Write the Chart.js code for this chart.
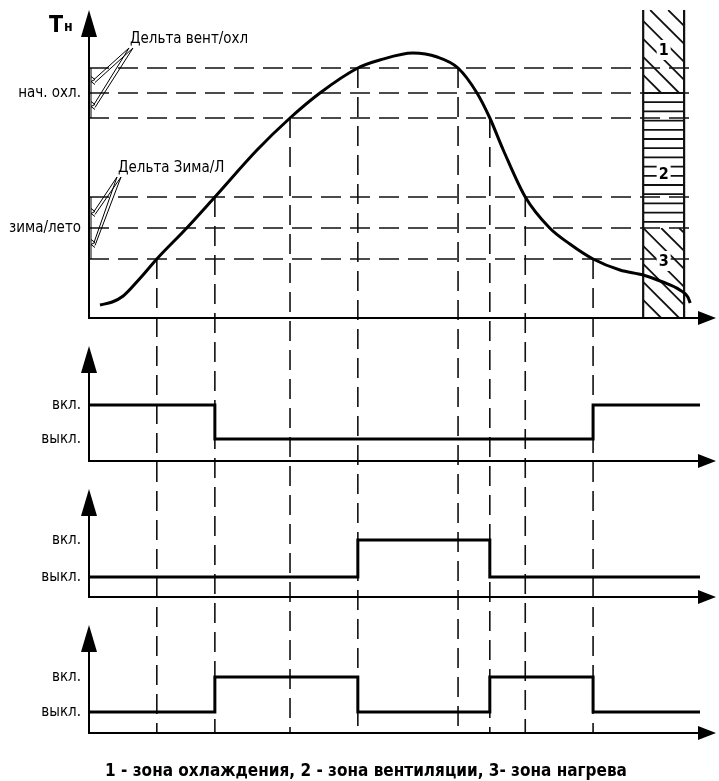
<!DOCTYPE html>
<html>
<head>
<meta charset="utf-8">
<script src="https://cdn.jsdelivr.net/npm/chart.js@4.4.0/dist/chart.umd.min.js"></script>
<style>
  html, body { margin: 0; padding: 0; background: #fff; }
  #wrap { width: 719px; height: 781px; }
</style>
</head>
<body>
<div id="wrap"><canvas id="diagram"></canvas></div>
<script>
// time runs 0..100 (arbitrary units), temperature in degrees
const curveTime = [1.8, 3.8, 5.6, 8.4, 11.1, 16.0, 20.6, 27.5, 32.9, 37.8, 44.0, 47.6, 53.0, 57.0, 60.4, 63.5, 65.6, 67.8, 71.4, 75.4, 78.7, 82.5, 86.9, 90.7, 93.9, 96.7, 98.0, 98.4];
const curveTemp = [1.3, 1.6, 2.2, 4.0, 5.9, 9.0, 12.1, 16.8, 20.0, 22.5, 25.0, 25.8, 26.5, 26.1, 25.0, 22.5, 20.0, 16.8, 12.1, 9.0, 7.4, 5.9, 4.8, 4.3, 3.6, 2.8, 2.1, 1.5];

// set points and their hysteresis
const levelValues = [9, 22.5];
const levelNames = ['зима/лето', 'нач. охл.'];
const levelDeltas = [3.1, 2.5];
const deltaNames = ['Дельта Зима/Л', 'Дельта вент/охл'];

// moments when the curve crosses a threshold
const crossTime = [11.1, 20.6, 32.9, 44.0, 60.4, 65.6, 71.4, 82.5];
const crossTemp = [5.9, 12.1, 20, 25, 25, 20, 12.1, 5.9];

// relay states (0 = выкл., 1 = вкл.)
const stateNames = ['выкл.', 'вкл.'];
const fanTime = [0, 20.6, 82.5, 100];
const fanState = [1, 0, 1, 1];
const coolTime = [0, 44.0, 65.6, 100];
const coolState = [0, 1, 0, 0];
const heatTime = [0, 20.6, 44.0, 65.6, 82.5, 100];
const heatState = [0, 1, 0, 1, 0, 0];

const zoneNames = ['1', '2', '3'];
const caption = '1 - зона охлаждения, 2 - зона вентиляции, 3- зона нагрева';

const FONT = "'DejaVu Sans Condensed', 'Liberation Sans Narrow', sans-serif";
Chart.defaults.font.family = FONT;
Chart.defaults.color = '#000';

function toPoints(xs, ys) {
    return xs.map((x, i) => ({ x: x, y: ys[i] }));
}

function line(ctx, x1, y1, x2, y2) {
    ctx.beginPath();
    ctx.moveTo(x1, y1);
    ctx.lineTo(x2, y2);
    ctx.stroke();
}

const diagramPlugin = {
    id: 'diagram',
    beforeDatasetsDraw(chart) {
        const { ctx, chartArea, scales } = chart;
        const x = scales.x, y0 = scales.y0;
        const left = chartArea.left, right = chartArea.right;
        const bottom = scales.y3.bottom;
        ctx.save();
        ctx.strokeStyle = '#111';

        // horizontal dashed levels
        ctx.lineWidth = 1.6;
        ctx.setLineDash([20, 9]);
        levelValues.forEach((v, i) => {
            [v - levelDeltas[i], v, v + levelDeltas[i]].forEach(t => {
                const py = y0.getPixelForValue(t);
                line(ctx, left, py, right - 2, py);
            });
        });
        // vertical dashed lines down through all panels
        crossTime.forEach((t, i) => {
            const px = x.getPixelForValue(t);
            line(ctx, px, y0.getPixelForValue(crossTemp[i]), px, bottom);
        });
        ctx.setLineDash([]);

        // hatched zone bar
        const bl = x.getPixelForValue(90.7), br = x.getPixelForValue(97.4);
        const yTop = y0.top, yBot = y0.bottom;
        const yCool = y0.getPixelForValue(levelValues[1]);
        const ySummer = y0.getPixelForValue(levelValues[0]);
        ctx.lineWidth = 1.8;
        function hatch(t, b) {
            ctx.save();
            ctx.beginPath();
            ctx.rect(bl, t, br - bl, b - t);
            ctx.clip();
            for (let k = -(b - t); k < br - bl + 20; k += 18) {
                line(ctx, bl + k, t, bl + k + (b - t), b);
            }
            ctx.restore();
        }
        hatch(yTop, yCool);
        hatch(ySummer, yBot);
        for (let py = yCool; py < ySummer - 2; py += 9.2) {
            line(ctx, bl, py, br, py);
        }
        ctx.lineWidth = 2.2;
        line(ctx, bl, yCool, br, yCool);
        line(ctx, bl, yTop, bl, yBot);
        line(ctx, br, yTop, br, yBot);

        // zone numbers
        ctx.font = 'bold 16px ' + FONT;
        ctx.textAlign = 'center';
        ctx.textBaseline = 'middle';
        const cx = (bl + br) / 2;
        [y0.getPixelForValue(26.8), y0.getPixelForValue(14.4), y0.getPixelForValue(5.7)].forEach((py, i) => {
            ctx.fillStyle = '#fff';
            ctx.fillRect(cx - 7, py - 10, 14, 20);
            ctx.fillStyle = '#000';
            ctx.fillText(zoneNames[i], cx, py + 1);
        });

        // axes with arrows
        ctx.strokeStyle = '#000';
        ctx.fillStyle = '#000';
        ctx.lineWidth = 2;
        ['y0', 'y1', 'y2', 'y3'].forEach((id, i) => {
            const s = scales[id];
            const tip = i === 0 ? s.top : s.top + 28;
            line(ctx, left, s.bottom, right, s.bottom);
            line(ctx, left, s.bottom + 1, left, tip + 20);
            ctx.beginPath();
            ctx.moveTo(left, tip);
            ctx.lineTo(left - 8, tip + 27);
            ctx.lineTo(left + 8, tip + 27);
            ctx.closePath();
            ctx.fill();
            ctx.beginPath();
            ctx.moveTo(right + 16, s.bottom);
            ctx.lineTo(right - 2, s.bottom - 7);
            ctx.lineTo(right - 2, s.bottom + 7);
            ctx.closePath();
            ctx.fill();
        });

        // hysteresis brackets with leaders
        ctx.lineWidth = 1;
        const labelPos = [[118, 168], [130, 39]];
        levelValues.forEach((v, i) => {
            const a = y0.getPixelForValue(v + levelDeltas[i]);
            const m = y0.getPixelForValue(v);
            const b = y0.getPixelForValue(v - levelDeltas[i]);
            line(ctx, left + 2, a, left + 2, b);
            [(a + m) / 2, (m + b) / 2].forEach(py => {
                ctx.beginPath();
                ctx.moveTo(left + 2, py - 4);
                ctx.lineTo(left + 6, py - 1);
                ctx.lineTo(left + 2, py + 1);
                ctx.lineTo(left + 6, py + 4);
                ctx.stroke();
                const [lx, ly] = labelPos[i];
                line(ctx, lx - 1, ly + 9, left + 5, py - 1);
                line(ctx, lx + 3, ly + 9, left + 6, py + 2);
            });
            ctx.font = '15px ' + FONT;
            ctx.textAlign = 'left';
            ctx.textBaseline = 'middle';
            ctx.fillText(deltaNames[i], labelPos[i][0], labelPos[i][1]);
        });

        // axis name
        ctx.font = 'bold 23px ' + FONT;
        ctx.textBaseline = 'alphabetic';
        ctx.fillText('Т', 49, 32);
        ctx.font = 'bold 14px ' + FONT;
        ctx.fillText('н', 64, 31);

        // caption under the panels
        ctx.font = 'bold 17px ' + FONT;
        ctx.textAlign = 'center';
        ctx.fillText(caption, 366, 776);
        ctx.restore();
    }
};

function stateAxis(min, max, weight) {
    return {
        type: 'linear', position: 'left', stack: 'panels', stackWeight: weight,
        min: min, max: max,
        grid: { display: false }, border: { display: false },
        ticks: { padding: 0, font: { size: 15 }, callback: v => stateNames[v] },
        afterBuildTicks: s => { s.ticks = [{ value: 0 }, { value: 1 }]; },
        afterFit: s => { s.width = 89; }
    };
}

function stepSet(xs, ys, axis) {
    return {
        data: toPoints(xs, ys), yAxisID: axis, stepped: true,
        borderColor: '#000', borderWidth: 3, pointRadius: 0,
        borderJoinStyle: 'miter', fill: false
    };
}

new Chart(document.getElementById('diagram'), {
    type: 'line',
    data: {
        datasets: [
            {
                data: toPoints(curveTime, curveTemp), yAxisID: 'y0',
                borderColor: '#000', borderWidth: 3, pointRadius: 0,
                cubicInterpolationMode: 'monotone', fill: false
            },
            stepSet(fanTime, fanState, 'y1'),
            stepSet(coolTime, coolState, 'y2'),
            stepSet(heatTime, heatState, 'y3')
        ]
    },
    options: {
        responsive: true,
        maintainAspectRatio: false,
        animation: false,
        events: [],
        layout: { padding: { top: 10, right: 19, left: 0, bottom: 48 } },
        scales: {
            x: { type: 'linear', min: 0, max: 100, display: false },
            // the layout stacks these bottom-up, so the lowest panel comes first
            y3: stateAxis(-0.6, 3.29, 136),
            y2: stateAxis(-0.54, 3.135, 136),
            y1: stateAxis(-0.647, 3.56, 143),
            y0: {
                type: 'linear', position: 'left', stack: 'panels', stackWeight: 308,
                min: 0, max: 30.8,
                grid: { display: false }, border: { display: false },
                ticks: { padding: 0, font: { size: 15 }, callback: v => levelNames[levelValues.indexOf(v)] },
                afterBuildTicks: s => { s.ticks = levelValues.map(v => ({ value: v })); },
                afterFit: s => { s.width = 89; }
            }
        },
        plugins: {
            legend: { display: false },
            tooltip: { enabled: false }
        }
    },
    plugins: [diagramPlugin]
});
</script>
</body>
</html>
